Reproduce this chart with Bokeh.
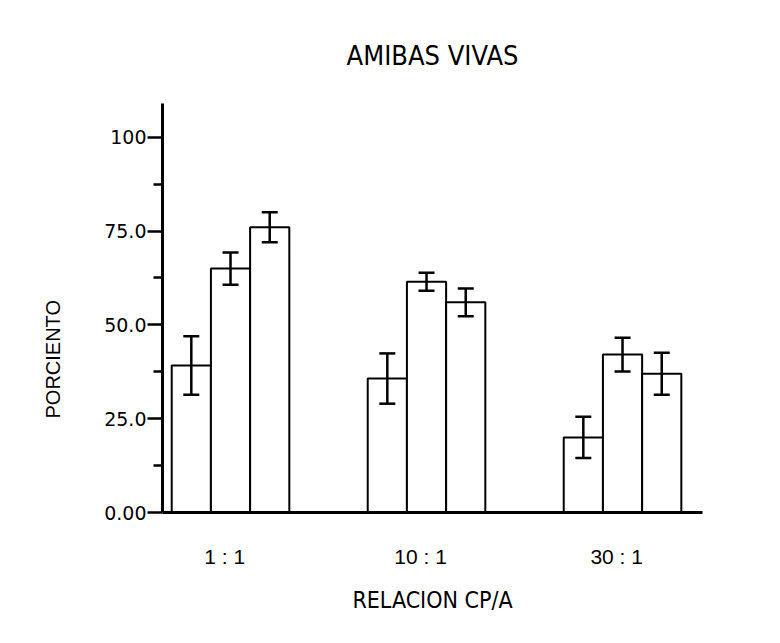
from bokeh.plotting import figure
from bokeh.models import (ColumnDataSource, Whisker, TeeHead, Range1d, FixedTicker, Title)
from bokeh.embed import file_html
from bokeh.resources import INLINE

# ---- data ----
categories = ["1 : 1", "10 : 1", "30 : 1"]
series1 = [39.2, 35.7, 20.0]
series1_err = [7.8, 6.7, 5.5]
series2 = [65.0, 61.5, 42.1]
series2_err = [4.3, 2.4, 4.5]
series3 = [76.0, 56.0, 37.0]
series3_err = [4.0, 3.7, 5.6]
y_ticks = [0, 25, 50, 75, 100]
y_tick_labels = ["0.00", "25.0", "50.0", "75.0", "100"]
y_minor_ticks = [12.5, 37.5, 62.5, 87.5]
title_text = "AMIBAS VIVAS"
x_title = "RELACION CP/A"
y_title = "PORCIENTO"

W, H = 770, 635
p = figure(width=W, height=H, output_backend="svg", toolbar_location=None,
           x_range=Range1d(-0.347, 2.408), y_range=Range1d(0, 109),
           min_border_left=162, min_border_right=W - 702,
           min_border_top=103, min_border_bottom=H - 512)
p.title = None
p.xgrid.visible = False
p.ygrid.visible = False
p.outline_line_color = None
p.background_fill_color = "white"
p.border_fill_color = "white"

bar_w = 0.2
offsets = [-bar_w, 0.0, bar_w]
all_series = [(series1, series1_err), (series2, series2_err), (series3, series3_err)]
for off, (vals, errs) in zip(offsets, all_series):
    xs = [i + off for i in range(len(categories))]
    src = ColumnDataSource(dict(x=xs, top=vals,
                                upper=[v + e for v, e in zip(vals, errs)],
                                lower=[v - e for v, e in zip(vals, errs)]))
    p.vbar(x="x", top="top", width=bar_w, bottom=0, source=src,
           fill_color="white", line_color="black", line_width=2)
    wk = Whisker(base="x", upper="upper", lower="lower", source=src, level="overlay",
                 line_color="black", line_width=2.5,
                 upper_head=TeeHead(size=16, line_width=2.5, line_color="black"),
                 lower_head=TeeHead(size=16, line_width=2.5, line_color="black"))
    p.add_layout(wk)

narrow = "'Liberation Sans Narrow', 'DejaVu Sans Condensed', sans-serif"

# x axis (labels sit slightly left of the group centres in the original)
label_shift = -0.03
x_ticks = [i + label_shift for i in range(len(categories))]
p.xaxis.ticker = FixedTicker(ticks=x_ticks)
p.xaxis.major_label_overrides = {t: c for t, c in zip(x_ticks, categories)}
p.xaxis.major_tick_out = 0
p.xaxis.major_tick_in = 0
p.xaxis.minor_tick_out = 0
p.xaxis.minor_tick_in = 0
p.xaxis.axis_line_width = 3
p.xaxis.major_label_standoff = 32
p.xaxis.major_label_text_font = "Liberation Sans"
p.xaxis.major_label_text_font_size = "21px"
p.xaxis.major_label_text_color = "black"
p.xaxis.axis_label = x_title
p.xaxis.axis_label_text_font = narrow
p.xaxis.axis_label_text_font_size = "23px"
p.xaxis.axis_label_text_font_style = "normal"
p.xaxis.axis_label_text_color = "black"
p.xaxis.axis_label_standoff = 16

# y axis
p.yaxis.ticker = FixedTicker(ticks=y_ticks, minor_ticks=y_minor_ticks)
p.yaxis.major_label_overrides = {t: l for t, l in zip(y_ticks, y_tick_labels)}
p.yaxis.axis_line_width = 3
p.yaxis.major_tick_out = 15
p.yaxis.major_tick_in = 0
p.yaxis.major_tick_line_width = 2.5
p.yaxis.minor_tick_out = 9
p.yaxis.minor_tick_in = 0
p.yaxis.minor_tick_line_width = 2.5
p.yaxis.major_label_standoff = 1
p.yaxis.major_label_text_font = "DejaVu Sans"
p.yaxis.major_label_text_font_size = "19px"
p.yaxis.major_label_text_color = "black"

p.add_layout(Title(text=title_text, align="center", offset=0, standoff=66,
                   text_font=narrow,
                   text_font_size="27px", text_font_style="normal",
                   text_color="black"), "above")
p.add_layout(Title(text=y_title, align="left", offset=94, standoff=76,
                   text_font="Liberation Sans", text_font_size="20px",
                   text_font_style="normal", text_color="black"), "left")

open("out.html", "w").write(file_html(p, INLINE))
